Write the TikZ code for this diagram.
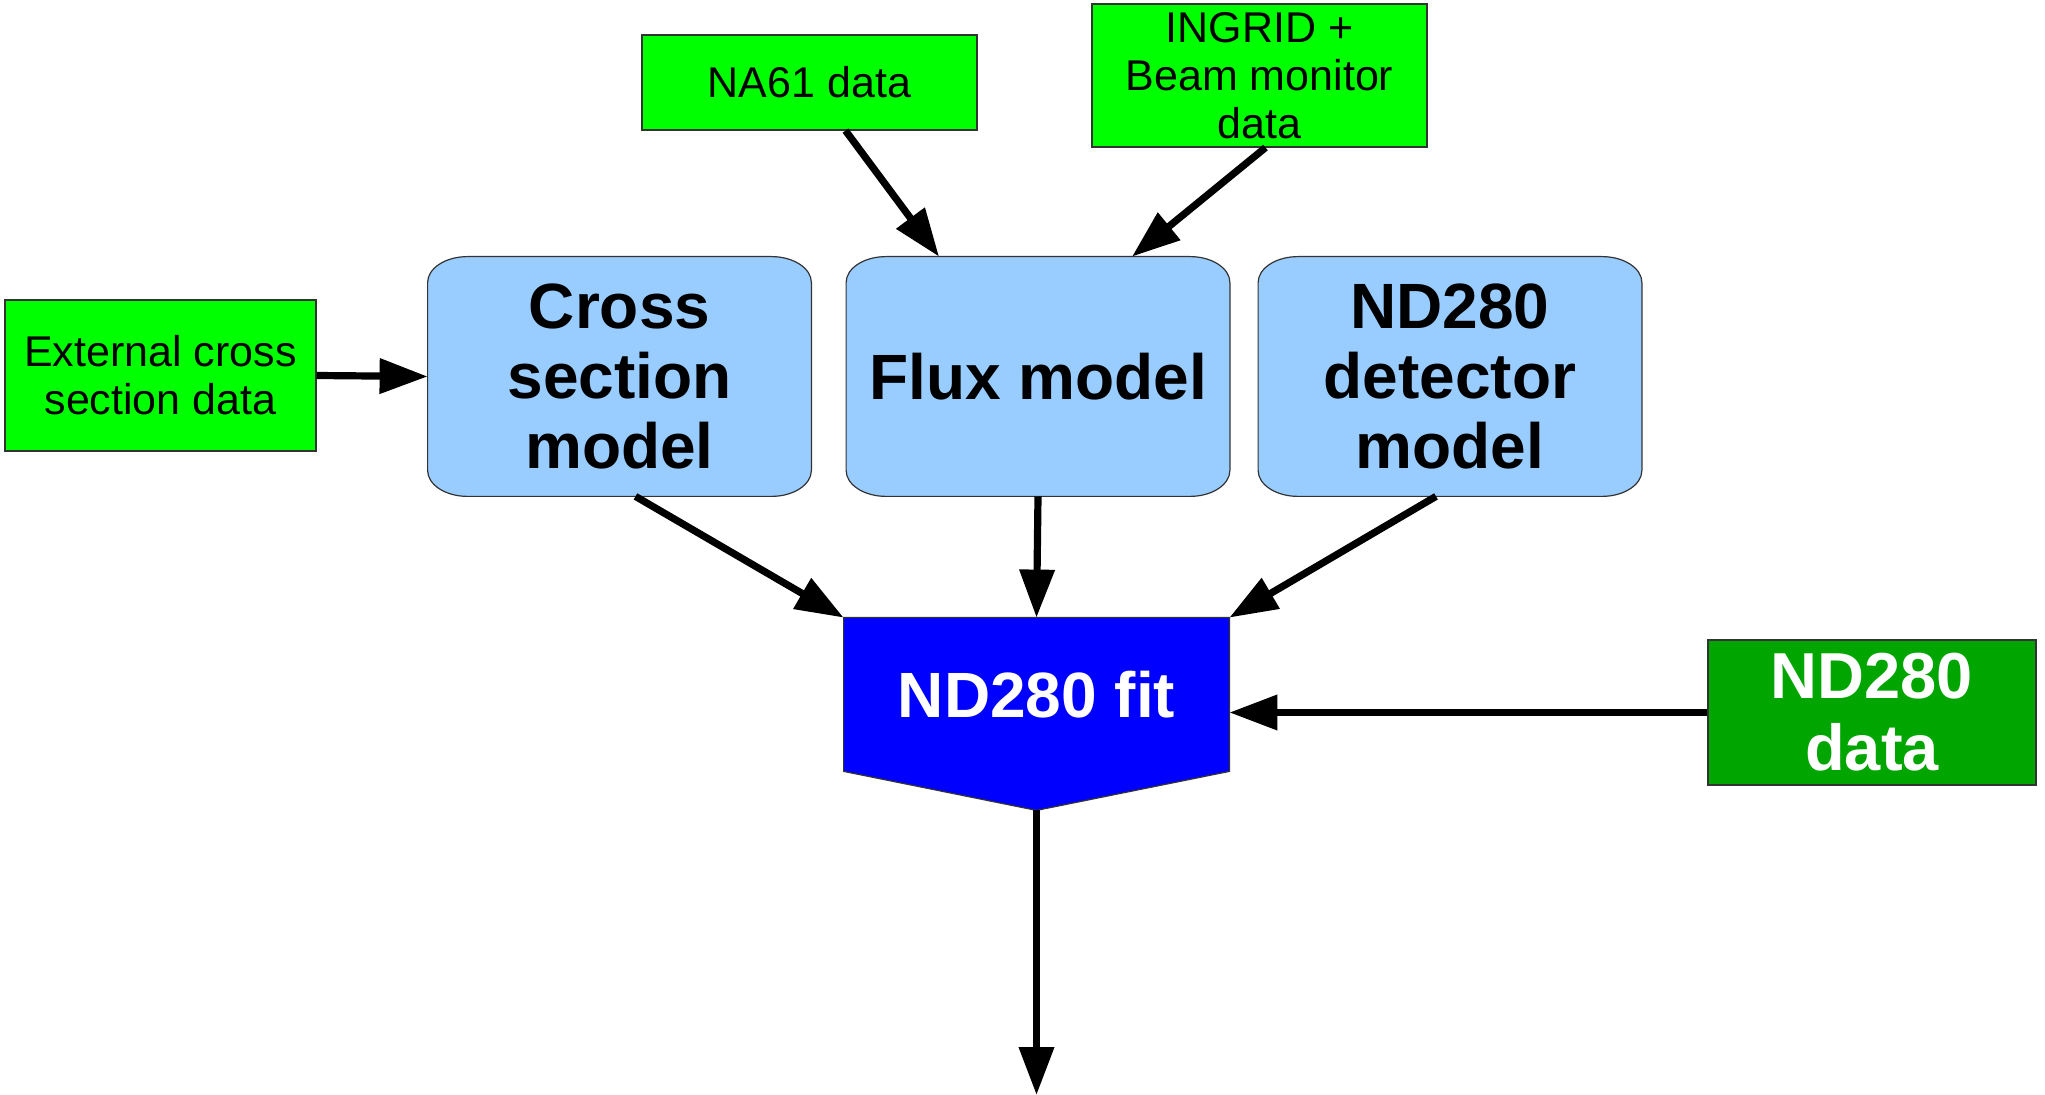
\documentclass[tikz,border=0pt]{standalone}
\usepackage{fontspec}
\setmainfont{Liberation Sans}
\usepackage{tikz}
\usetikzlibrary{calc,arrows.meta,backgrounds}
\definecolor{datagreen}{HTML}{00FF00}
\definecolor{darkdata}{HTML}{00A500}
\definecolor{modelblue}{HTML}{99CCFF}
\definecolor{fitblue}{HTML}{0000FF}
\tikzstyle{inputbox} = [
    draw=black!80,
    fill=datagreen,
    line width=0.6pt,
    rectangle,
    align=center,
    inner sep=0pt,
    font=\fontsize{21.5}{24}\selectfont
    ]
\tikzstyle{modelbox} = [
    rectangle,
    minimum width=191.5pt,
    minimum height=119.5pt,
    align=center,
    inner sep=0pt,
    font=\bfseries\fontsize{32}{35}\selectfont
    ]
\tikzstyle{modelshape} = [
    draw=black!80,
    fill=modelblue,
    line width=0.6pt
    ]
\tikzstyle{flow} = [
    line width=3.6pt,
    -{Triangle[length=24pt,width=17pt]}
    ]
\begin{document}
\begin{tikzpicture}[x=0.5pt,y=-0.5pt]
\useasboundingbox (0,0) rectangle (2045,1095);

% data going in
\node [inputbox, minimum width=167.5pt, minimum height=47.5pt] (na61) at (809.5,82.5) {NA61 data};
\node [inputbox, minimum width=167.5pt, minimum height=71.5pt] (ingrid) at (1259.5,75.5) {INGRID +\\Beam monitor\\data};
\node [inputbox, minimum width=155.5pt, minimum height=75.5pt] (extxsec) at (160.5,375.5) {External cross\\section data};

% models
\node [modelbox] (xsec) at (619.5,376.5) {Cross\\section\\model};
\node [modelbox] (flux) at (1038,376.5) {Flux model};
\node [modelbox] (det) at (1450,376.5) {ND280\\detector\\model};
\begin{scope}[on background layer]
\foreach \m in {xsec,flux,det}
    \draw [modelshape] ($(\m.north west)+(40,0)$) -- ($(\m.north east)+(-40,0)$)
        arc[start angle=90,end angle=0,x radius=20pt,y radius=13pt]
        -- ($(\m.south east)+(0,-26)$)
        arc[start angle=0,end angle=-90,x radius=20pt,y radius=13pt]
        -- ($(\m.south west)+(40,0)$)
        arc[start angle=270,end angle=180,x radius=20pt,y radius=13pt]
        -- ($(\m.north west)+(0,26)$)
        arc[start angle=180,end angle=90,x radius=20pt,y radius=13pt] -- cycle;
\end{scope}

% the fit
\node [minimum width=192.5pt, minimum height=76.5pt, inner sep=0pt, text=white,
       font=\bfseries\fontsize{32}{36}\selectfont] (fit) at (1036.5,694.5) {ND280 fit};
\begin{scope}[on background layer]
\draw [draw=black!80, fill=fitblue, line width=0.6pt]
    (fit.north west) -- (fit.north east) -- (fit.south east)
    -- ($(fit.south)+(0,39)$) -- (fit.south west) -- cycle;
\end{scope}
\coordinate (fittip) at ($(fit.south)+(0,39)$);
\node [inputbox, fill=darkdata, text=white, minimum width=164pt, minimum height=72.5pt,
       font=\bfseries\fontsize{32.5}{36}\selectfont] (nddata) at (1872,712.5) {ND280\\data};
\coordinate (result) at (1036.5,1095);

% arrows
\draw [flow] ([xshift=18pt]na61.south) -- ([xshift=-49.5pt]flux.north);
\draw [flow] ([xshift=3pt]ingrid.south) -- ([xshift=47pt]flux.north);
\draw [flow] (extxsec.east) -- (xsec.west);
\draw [flow] ([xshift=8pt]xsec.south) -- (fit.north west);
\draw [flow] (flux.south) -- (fit.north);
\draw [flow] ([xshift=-7pt]det.south) -- (fit.north east);
\draw [flow] (nddata.west) -- (nddata.west -| fit.east);
\draw [flow] (fittip) -- (result);
\end{tikzpicture}
\end{document}
